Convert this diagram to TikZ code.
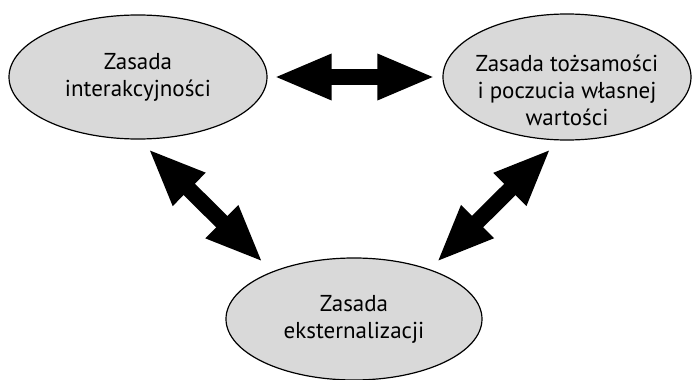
\documentclass[tikz,border=0pt]{standalone}
\usepackage{fontspec}
\setsansfont{PT Sans}
\usepackage{tikz}
\usetikzlibrary{shapes.geometric, arrows.meta, positioning, calc}
\definecolor{principlefill}{HTML}{D9D9D9}

\begin{document}
\begin{tikzpicture}[
    x=0.5pt, y=-0.5pt,
    principle/.style={
        draw=black, fill=principlefill, line width=0.6pt,
        ellipse, inner sep=0pt,
        font=\sffamily\fontsize{11.5}{13.5}\selectfont, align=center
    },
    principletext/.style={
        font=\sffamily\fontsize{11.5}{13.5}\selectfont, align=center
    },
    biarrow/.style={{Triangle[length=29pt, width=21pt]}-{Triangle[length=29pt, width=21pt]}, line width=8pt, color=black}
]
\useasboundingbox (0,0) rectangle (693,380);

% Principles
\node[principle, minimum width=129pt, minimum height=62pt] (inter) at (138,77) {Zasada\\interakcyjności};
\node[principle, minimum width=124pt, minimum height=63pt] (tozs) at (567,77) {};
\node[principletext, yshift=-6.5pt] (tozstext) at (tozs.center) {Zasada tożsamości\\i poczucia własnej\\wartości};
\node[principle, minimum width=128pt, minimum height=61pt] (ekst) at (354,319) {Zasada\\eksternalizacji};

% Arrows between principles
\draw[biarrow, shorten <=3pt, shorten >=3.5pt] (inter) -- (tozs);
\draw[biarrow] ([xshift=5pt, yshift=-4.5pt]inter.south) -- ([yshift=6.5pt]ekst.north west);
\draw[biarrow] ([xshift=-8pt, yshift=-4pt]tozs.south) -- ([xshift=-4.25pt, yshift=6.5pt]ekst.north east);

\end{tikzpicture}
\end{document}
